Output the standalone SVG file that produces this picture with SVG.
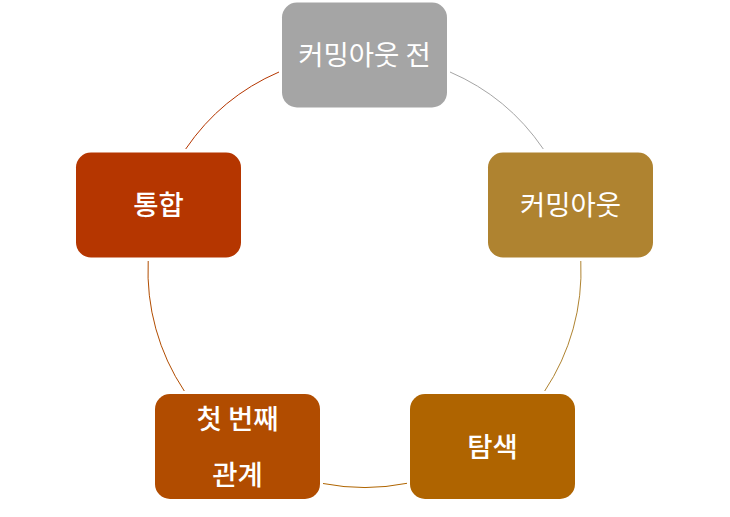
<svg xmlns="http://www.w3.org/2000/svg" width="730" height="517" viewBox="0 0 730 517">
<style>
.box{stroke:none}
.lbl{fill:#FFFFFF;font-family:"Noto Sans CJK KR","Noto Sans",sans-serif;font-size:27.5px;font-weight:500;text-anchor:middle}
.thin{font-weight:400}
.arc{fill:none;stroke-width:1}
</style>
<rect width="730" height="517" fill="#FFFFFF"/>
<g id="connectors">
<path class="arc" stroke="#A5A5A5" d="M450,72 A216.5,216.5 0 0 1 543.3,149"/>
<path class="arc" stroke="#AF8330" d="M580.8,261 A216.5,216.5 0 0 1 544.7,391"/>
<path class="arc" stroke="#AF6400" d="M407,483.3 A216.5,216.5 0 0 1 323,483.5"/>
<path class="arc" stroke="#B14C00" d="M184.3,391 A216.5,216.5 0 0 1 148.2,261"/>
<path class="arc" stroke="#B53600" d="M185.7,149 A216.5,216.5 0 0 1 279,72"/>
</g>
<g id="node-before">
<rect class="box" x="282" y="2.5" width="165" height="105" rx="15" fill="#A5A5A5"/>
<text class="lbl thin" x="364.5" y="65">커밍아웃 전</text>
</g>
<g id="node-comingout">
<rect class="box" x="488" y="152.5" width="165" height="105" rx="15" fill="#AF8330"/>
<text class="lbl thin" x="570.5" y="215">커밍아웃</text>
</g>
<g id="node-explore">
<rect class="box" x="410" y="394" width="165" height="105" rx="15" fill="#AF6400"/>
<text class="lbl" x="492.5" y="457">탐색</text>
</g>
<g id="node-first">
<rect class="box" x="155" y="394" width="165" height="105" rx="15" fill="#B14C00"/>
<text class="lbl" x="237.5" y="429">첫 번째</text>
<text class="lbl" x="237.5" y="485">관계</text>
</g>
<g id="node-integrate">
<rect class="box" x="76" y="152.5" width="165" height="105" rx="15" fill="#B53600"/>
<text class="lbl" x="158.5" y="215">통합</text>
</g>
</svg>
